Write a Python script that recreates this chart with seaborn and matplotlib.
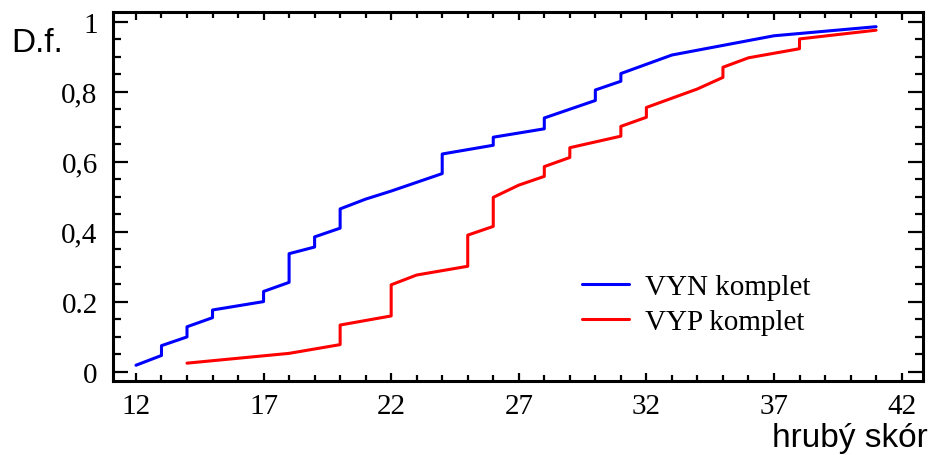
import numpy as np
import pandas as pd
import matplotlib
matplotlib.use("Agg")
import matplotlib.pyplot as plt
import seaborn as sns
from matplotlib.ticker import MultipleLocator, FixedLocator

# VYN komplet - empirical d.f. (vertical jumps at integer scores)
vyn_x = [12, 13, 13, 14, 14, 15, 15, 17, 17, 18, 18, 19, 19, 20, 20, 21, 22,
         24, 24, 26, 26, 28, 28, 30, 30, 31, 31, 33, 37, 41]
vyn_y = [0.018, 0.046, 0.074, 0.099, 0.128, 0.154, 0.176, 0.200, 0.229, 0.255,
         0.337, 0.356, 0.385, 0.410, 0.465, 0.493, 0.516, 0.566, 0.622, 0.647,
         0.670, 0.694, 0.725, 0.775, 0.805, 0.830, 0.852, 0.905, 0.960, 0.986]

# VYP komplet
vyp_x = [14, 18, 20, 20, 22, 22, 23, 25, 25, 26, 26, 27, 28, 28, 29, 29, 31,
         31, 32, 32, 34, 35, 35, 36, 38, 38, 41]
vyp_y = [0.024, 0.052, 0.077, 0.133, 0.159, 0.248, 0.276, 0.301, 0.390, 0.415,
         0.498, 0.533, 0.558, 0.586, 0.612, 0.640, 0.673, 0.701, 0.727, 0.755,
         0.808, 0.841, 0.870, 0.897, 0.923, 0.951, 0.976]

ytick_vals = [0, 0.2, 0.4, 0.6, 0.8, 1]
ytick_labels = ["0", "0.2", "0,4", "0,6", "0,8", "1"]
xtick_vals = [12, 17, 22, 27, 32, 37, 42]

sns.set_style("ticks")
plt.rcParams["font.family"] = ["Liberation Serif", "DejaVu Serif"]
plt.rcParams["text.color"] = "black"
plt.rcParams["xtick.color"] = "black"
plt.rcParams["ytick.color"] = "black"

fig = plt.figure(figsize=(9.3, 4.56), dpi=100)
ax = fig.add_axes([0.1215, 0.1623, 0.871, 0.8092])

sns.lineplot(x=vyn_x, y=vyn_y, sort=False, estimator=None, color="#0000ff",
             linewidth=2.2, label="VYN komplet", ax=ax)
sns.lineplot(x=vyp_x, y=vyp_y, sort=False, estimator=None, color="#ff0000",
             linewidth=2.2, label="VYP komplet", ax=ax)

ax.set_xlim(11.1, 42.84)
ax.set_ylim(-0.027, 1.028)

ax.xaxis.set_major_locator(FixedLocator(xtick_vals))
ax.xaxis.set_minor_locator(MultipleLocator(1))
ax.yaxis.set_major_locator(FixedLocator(ytick_vals))
ax.set_yticklabels(ytick_labels)
ax.yaxis.set_minor_locator(MultipleLocator(0.05))

for s in ax.spines.values():
    s.set_linewidth(2.2)
    s.set_color("black")

ax.tick_params(axis="x", which="major", direction="in", length=6, width=1.6,
               top=True, bottom=True, labelsize=21, pad=9, labelcolor="black")
ax.tick_params(axis="x", which="minor", direction="in", length=4, width=1.6,
               top=True, bottom=True)
ax.tick_params(axis="y", which="major", direction="in", length=11, width=1.6,
               left=True, right=True, labelsize=21, pad=11, labelcolor="black")
ax.tick_params(axis="y", which="minor", direction="in", length=5.5, width=1.6,
               left=True, right=True)
ax.set_xlabel("")
ax.set_ylabel("")

leg = ax.legend(loc="upper left", bbox_to_anchor=(0.579, 0.29), frameon=False,
                fontsize=21, handlelength=1.6, handletextpad=0.55,
                labelspacing=0.28, borderpad=0, borderaxespad=0)
for t in leg.get_texts():
    t.set_color("black")

fig.text(0.012, 0.905, "D.f.", fontsize=24, color="black",
         family=["Liberation Sans", "DejaVu Sans"], ha="left", va="center")
fig.text(0.998, 0.038, "hrubý skór", fontsize=24, color="black",
         family=["Liberation Sans", "DejaVu Sans"], ha="right", va="center")

plt.savefig("out.png", dpi=100)
